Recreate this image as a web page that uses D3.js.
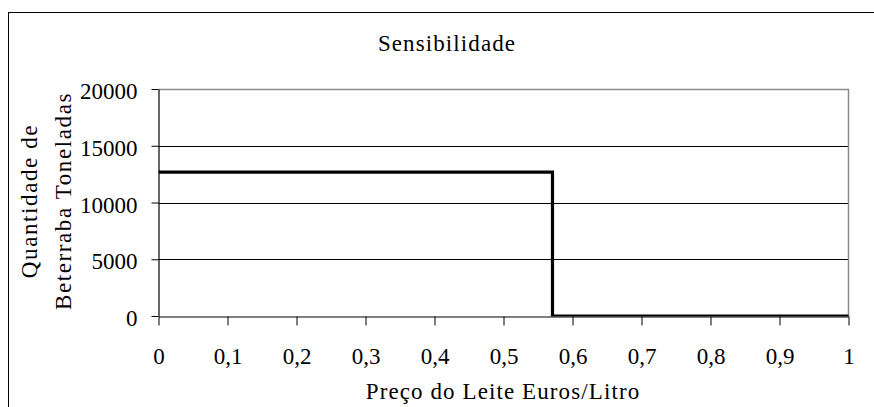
<!DOCTYPE html>
<html>
<head>
<meta charset="utf-8">
<script src="https://cdn.jsdelivr.net/npm/d3@7"></script>
<style>
  html, body { margin: 0; padding: 0; background: #fff; }
  svg { display: block; }
  svg text { font-family: "Liberation Serif", "Times New Roman", serif; fill: #000; }
</style>
</head>
<body>
<script>
// ---- data ----
const priceValues = [0, 0.571, 0.571, 1];        // Preço do Leite Euros/Litro
const quantityValues = [12670, 12670, 0, 0];      // Quantidade de Beterraba Toneladas
const xTickValues = [0, 0.1, 0.2, 0.3, 0.4, 0.5, 0.6, 0.7, 0.8, 0.9, 1];
const xTickLabels = ["0", "0,1", "0,2", "0,3", "0,4", "0,5", "0,6", "0,7", "0,8", "0,9", "1"];
const yTickValues = [0, 5000, 10000, 15000, 20000];
const yTickLabels = ["0", "5000", "10000", "15000", "20000"];
const titleText = "Sensibilidade";
const xTitle = "Preço do Leite Euros/Litro";
const yTitleLines = ["Quantidade de", "Beterraba Toneladas"];

const W = 874, H = 407;
const plot = { left: 158.5, right: 848.5, top: 89, bottom: 316 };
const FONT = '"Liberation Serif", "Times New Roman", serif';

const svg = d3.select("body").append("svg").attr("width", W).attr("height", H);

// outer frame
svg.append("rect").attr("x", 8.5).attr("y", 12.5).attr("width", 900).attr("height", 500)
  .attr("fill", "none").attr("stroke", "#000").attr("stroke-width", 1);

const x = d3.scaleLinear().domain([0, 1]).range([plot.left, plot.right]);
const y = d3.scaleLinear().domain([0, 20000]).range([plot.bottom, plot.top]);

// gridlines
svg.append("g").selectAll("line").data(yTickValues.filter(v => v > 0 && v < 20000)).join("line")
  .attr("x1", plot.left).attr("x2", plot.right)
  .attr("y1", d => Math.round(y(d)) + 0.5).attr("y2", d => Math.round(y(d)) + 0.5)
  .attr("stroke", "#000").attr("stroke-width", 1);

// plot border (top and right gray)
svg.append("path")
  .attr("d", `M${plot.left},${plot.top + 0.5}H${plot.right}V${plot.bottom}`)
  .attr("fill", "none").attr("stroke", "#8c8c8c").attr("stroke-width", 1.5);

// clip for the series
svg.append("clipPath").attr("id", "clip").append("rect")
  .attr("x", plot.left).attr("y", plot.top).attr("width", plot.right - plot.left + 2)
  .attr("height", plot.bottom - plot.top + 0.5);

// series line
const pts = priceValues.map((p, i) => [p, quantityValues[i]]);
svg.append("path").datum(pts)
  .attr("clip-path", "url(#clip)")
  .attr("d", d3.line().x(d => x(d[0])).y(d => y(d[1])))
  .attr("fill", "none").attr("stroke", "#000").attr("stroke-width", 3.2)
  .attr("stroke-linejoin", "miter");

// x axis
const xAxis = svg.append("g").attr("transform", `translate(0,${plot.bottom + 0.5})`)
  .call(d3.axisBottom(x).tickValues(xTickValues).tickSize(9).tickSizeOuter(0)
    .tickFormat((d, i) => xTickLabels[i]).tickPadding(0));
xAxis.attr("font-family", null).attr("font-size", null);
xAxis.select(".domain").attr("stroke", "#000").attr("stroke-width", 1.2);
xAxis.selectAll(".tick line").attr("stroke", "#000");
xAxis.selectAll(".tick text").attr("dy", null).attr("y", 47.5)
  .style("font-size", "23px").style("font-family", FONT);

// y axis
const yAxis = svg.append("g").attr("transform", `translate(${plot.left},0)`)
  .call(d3.axisLeft(y).tickValues(yTickValues).tickSize(7).tickSizeOuter(0)
    .tickFormat((d, i) => yTickLabels[i]));
yAxis.attr("font-family", null).attr("font-size", null);
yAxis.select(".domain").attr("stroke", "#000").attr("stroke-width", 1.2);
yAxis.selectAll(".tick line").attr("stroke", "#000");
yAxis.selectAll(".tick text").attr("x", -21).attr("dy", null).attr("y", 9.5)
  .style("font-size", "23px").style("font-family", FONT);

// title
svg.append("text").attr("x", 447).attr("y", 51).attr("text-anchor", "middle")
  .style("font-size", "23px").style("font-family", FONT).style("letter-spacing", "1.1px").text(titleText);

// x title
svg.append("text").attr("x", 503).attr("y", 399).attr("text-anchor", "middle")
  .style("font-size", "23px").style("font-family", FONT).style("letter-spacing", "1.1px").text(xTitle);

// y title (two rotated lines)
const yBase = [37, 71];
yTitleLines.forEach((t, i) => {
  svg.append("text")
    .attr("transform", `translate(${yBase[i]},201) rotate(-90)`)
    .attr("text-anchor", "middle")
    .style("font-size", "23px").style("font-family", FONT).style("letter-spacing", "1.6px")
    .text(t);
});
</script>
</body>
</html>
